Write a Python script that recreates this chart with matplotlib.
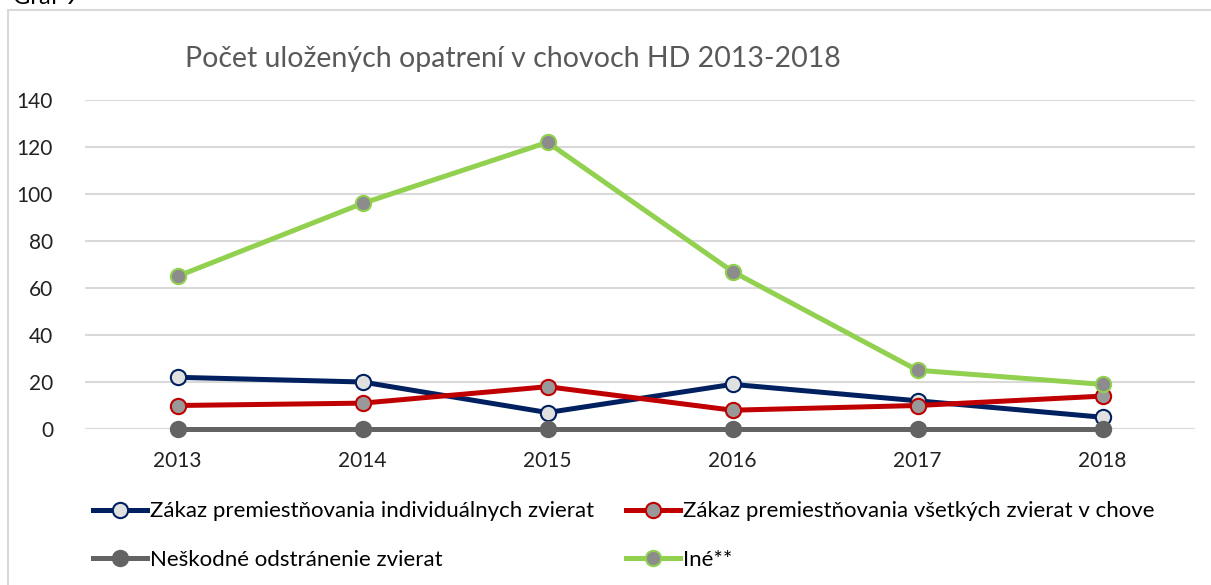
import matplotlib
matplotlib.use("Agg")
import matplotlib.pyplot as plt
from matplotlib.patches import Rectangle

plt.rcParams['font.family'] = ['Lato', 'DejaVu Sans']

years = ["2013", "2014", "2015", "2016", "2017", "2018"]
zakaz_ind = [22, 20, 7, 19, 12, 5]
zakaz_all = [10, 11, 18, 8, 10, 14]
neskodne = [0, 0, 0, 0, 0, 0]
ine = [65, 96, 122, 67, 25, 19]

labels = ["Zákaz premiestňovania individuálnych zvierat",
          "Zákaz premiestňovania všetkých zvierat v chove",
          "Neškodné odstránenie zvierat",
          "Iné**"]
title = "Počet uložených opatrení v chovoch HD 2013-2018"

W, H = 1211, 585
fig = plt.figure(figsize=(W/100, H/100), dpi=100)

# outer frame
fig.patches.append(Rectangle((8/W, -0.05), 1.2, (H-10)/H + 0.05, transform=fig.transFigure,
                             fill=False, edgecolor="#D9D9D9", linewidth=1.5))
fig.text(13/W, 1 - 4/H, "Graf 9", fontsize=17, color="black", va="baseline", ha="left")

ax = fig.add_axes([85/W, (H-429)/H, (1195-85)/W, (429-100)/H])
ax.set_xlim(-0.5, 5.5)
ax.set_ylim(0, 140)
ax.set_yticks(range(0, 141, 20))
ax.grid(axis='y', color="#D9D9D9", linewidth=1.5)
ax.set_axisbelow(True)
for s in ax.spines.values():
    s.set_visible(False)
ax.tick_params(length=0, labelsize=15, colors="#222222")
ax.tick_params(axis='y', pad=23)
ax.tick_params(axis='x', pad=16)
x = list(range(len(years)))
ax.set_xticks(x)
ax.set_xticklabels(years)

lw = 3.6
ms = 11
styles = [
    (zakaz_ind, "#002060", "#E0E0E0", "#002060"),
    (zakaz_all, "#C00000", "#999999", "#C00000"),
    (neskodne, "#636363", "#636363", "#636363"),
    (ine, "#92D050", "#8C8C8C", "#92D050"),
]
handles = []
for (vals, c, fc, ec), lab in zip(styles, labels):
    h, = ax.plot(x, vals, color=c, linewidth=lw, marker='o', markersize=ms,
                 markerfacecolor=fc, markeredgecolor=ec, markeredgewidth=1.5,
                 clip_on=False, label=lab, zorder=3)
    handles.append(h)

fig.text(185/W, (H-59)/H, title, fontsize=20.5, color="#595959", ha="left", va="center")

common = dict(loc="center left", frameon=False, fontsize=16, handlelength=2.45,
              handletextpad=0.1, labelspacing=1.28, borderpad=0, borderaxespad=0)
leg1 = fig.legend([handles[0], handles[2]], [labels[0], labels[2]],
                  bbox_to_anchor=(93/W, (H-535.5)/H), **common)
leg2 = fig.legend([handles[1], handles[3]], [labels[1], labels[3]],
                  bbox_to_anchor=(626/W, (H-535.5)/H), **common)

fig.savefig("out.png", dpi=100)
